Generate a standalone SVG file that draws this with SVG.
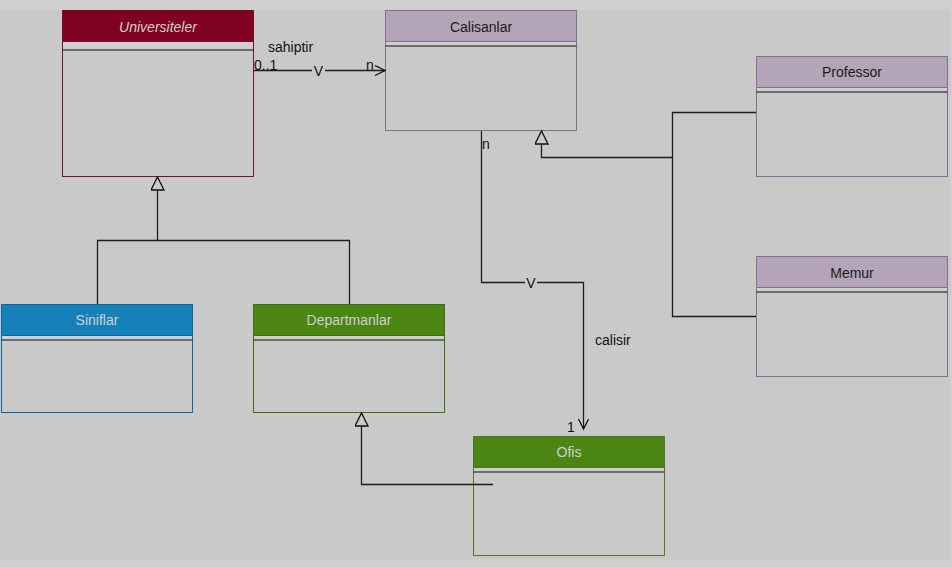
<svg xmlns="http://www.w3.org/2000/svg" width="952" height="567" viewBox="0 0 952 567">
<style>
text{font-family:"Liberation Sans",Arial,sans-serif;font-size:14px}
.hd{text-anchor:middle}
.lt{fill:#cfcfcf}
.dk{fill:#1a1a1a}
.body{fill:#c9c9c9}
.sep{stroke:#111;stroke-width:1.2}
.gap{fill:#cfcfcf}
.ln{fill:none;stroke:#1e1e1e;stroke-width:1.3}
.lbl{fill:#111}
</style>
<defs>
<marker id="tri" markerWidth="16" markerHeight="16" refX="14" refY="7" orient="auto" markerUnits="userSpaceOnUse">
<path d="M1 0.5 L14 7 L1 13.5 Z" fill="#c9c9c9" stroke="#111" stroke-width="1.3"/>
</marker>
<marker id="open" markerWidth="14" markerHeight="14" refX="11" refY="6" orient="auto" markerUnits="userSpaceOnUse">
<path d="M1 1 L11 6 L1 11" fill="none" stroke="#111" stroke-width="1.3"/>
</marker>
</defs>
<rect x="0" y="0" width="952" height="567" fill="#cfcfcf"/>
<rect x="0" y="10" width="950" height="550" fill="#c9c9c9"/>

<g id="universiteler">
<rect x="62.5" y="10.5" width="191" height="166" class="body" stroke="#7a1020"/>
<rect x="62.5" y="10.5" width="191" height="31" fill="#7f0020" stroke="#7a1020"/>
<rect x="63" y="42" width="190" height="7" class="gap"/>
<line x1="62.5" y1="50" x2="253.5" y2="50" class="sep"/>
<text x="158" y="32" class="hd lt" font-style="italic">Universiteler</text>
</g>

<g id="calisanlar">
<rect x="385.5" y="10.5" width="191" height="120" class="body" stroke="#8a6a96"/>
<rect x="385.5" y="10.5" width="191" height="31" fill="#b3a4b7" stroke="#8a6a96"/>
<rect x="386" y="42" width="190" height="3" class="gap"/>
<line x1="385.5" y1="46" x2="576.5" y2="46" class="sep"/>
<text x="481" y="32" class="hd dk">Calisanlar</text>
</g>

<g id="professor">
<rect x="756.5" y="56.5" width="191" height="120" class="body" stroke="#8a6a96"/>
<rect x="756.5" y="56.5" width="191" height="31" fill="#b3a4b7" stroke="#8a6a96"/>
<rect x="757" y="88" width="190" height="3" class="gap"/>
<line x1="756.5" y1="92" x2="947.5" y2="92" class="sep"/>
<text x="852" y="77" class="hd dk">Professor</text>
</g>

<g id="memur">
<rect x="756.5" y="256.5" width="191" height="120" class="body" stroke="#8a6a96"/>
<rect x="756.5" y="256.5" width="191" height="31" fill="#b3a4b7" stroke="#8a6a96"/>
<rect x="757" y="288" width="190" height="3" class="gap"/>
<line x1="756.5" y1="292" x2="947.5" y2="292" class="sep"/>
<text x="852" y="278" class="hd dk">Memur</text>
</g>

<g id="siniflar">
<rect x="1.5" y="304.5" width="191" height="108" class="body" stroke="#0f66a0"/>
<rect x="1.5" y="304.5" width="191" height="31" fill="#1681b8" stroke="#0f66a0"/>
<rect x="2" y="336" width="190" height="3" class="gap"/>
<line x1="1.5" y1="340" x2="192.5" y2="340" class="sep"/>
<text x="97" y="325" class="hd lt">Siniflar</text>
</g>

<g id="departmanlar">
<rect x="253.5" y="304.5" width="191" height="108" class="body" stroke="#3f7010"/>
<rect x="253.5" y="304.5" width="191" height="31" fill="#4b8512" stroke="#3f7010"/>
<rect x="254" y="336" width="190" height="3" class="gap"/>
<line x1="253.5" y1="340" x2="444.5" y2="340" class="sep"/>
<text x="349" y="325" class="hd lt">Departmanlar</text>
</g>

<g id="ofis">
<rect x="473.5" y="436.5" width="191" height="119" class="body" stroke="#4a7a25"/>
<rect x="473.5" y="436.5" width="191" height="31" fill="#4b8512" stroke="#4a7a25"/>
<rect x="474" y="468" width="190" height="3" class="gap"/>
<line x1="473.5" y1="472" x2="664.5" y2="472" class="sep"/>
<text x="569" y="457" class="hd lt">Ofis</text>
</g>

<g id="connectors">
<line x1="253.5" y1="70.5" x2="312" y2="70.5" class="ln"/>
<line x1="325" y1="70.5" x2="385" y2="70.5" class="ln" marker-end="url(#open)"/>
<text x="318.5" y="76" class="lbl" text-anchor="middle">V</text>
<text x="268" y="52" class="lbl">sahiptir</text>
<text x="254" y="70" class="lbl">0..1</text>
<text x="366" y="70" class="lbl">n</text>

<polyline points="97.5,304 97.5,240.5 349.5,240.5 349.5,304" class="ln"/>
<line x1="157.5" y1="240.5" x2="157.5" y2="177" class="ln" marker-end="url(#tri)"/>

<polyline points="756,112.5 672.5,112.5 672.5,316.5 756,316.5" class="ln"/>
<polyline points="672.5,157.5 541.5,157.5 541.5,131" class="ln" marker-end="url(#tri)"/>

<polyline points="481.5,131 481.5,282.5 525,282.5" class="ln"/>
<polyline points="537,282.5 583.5,282.5 583.5,429" class="ln" marker-end="url(#open)"/>
<text x="531" y="288" class="lbl" text-anchor="middle">V</text>
<text x="482" y="149" class="lbl">n</text>
<text x="595" y="345" class="lbl">calisir</text>
<text x="567" y="432" class="lbl">1</text>

<polyline points="493,484.5 361.5,484.5 361.5,413" class="ln" marker-end="url(#tri)"/>
</g>
</svg>
